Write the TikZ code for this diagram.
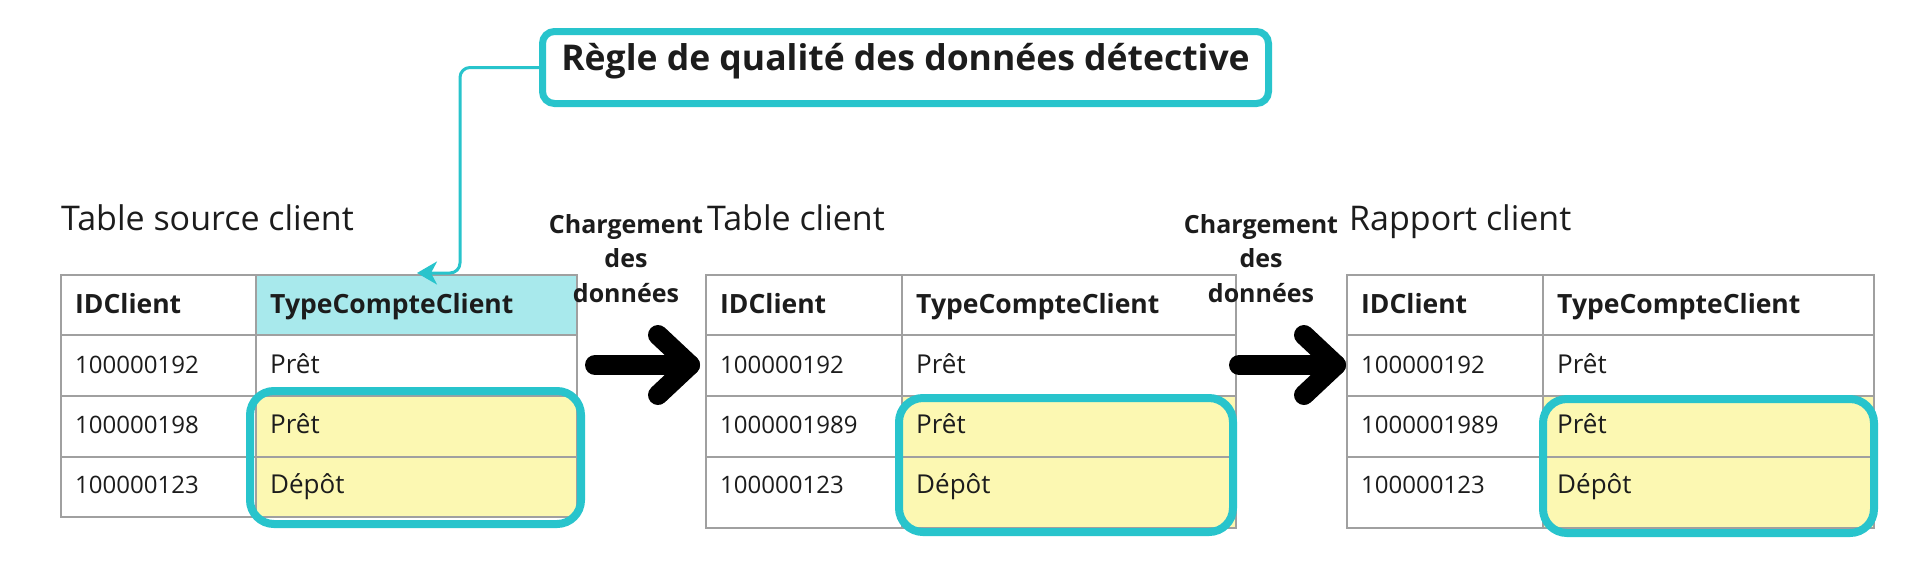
\documentclass[tikz,border=0pt]{standalone}
\usepackage{fontspec}
\setmainfont{Open Sans}
\usetikzlibrary{arrows.meta}
\definecolor{teal1}{RGB}{40,196,204}
\definecolor{hdrcyan}{RGB}{168,233,236}
\definecolor{cellyel}{RGB}{252,248,178}
\definecolor{gridgray}{RGB}{160,160,160}
\definecolor{ink}{RGB}{28,28,28}

\newcommand{\cltable}[6]{%
  \fill[cellyel] (#3,396) rectangle (#4,#5);
  \draw[tgrid] (#2,275) rectangle (#4,#5);
  \draw[tgrid] (#3,275) -- (#3,#5);
  \foreach \yy in {335,396,457} {\draw[tgrid] (#2,\yy) -- (#4,\yy);}
  \node[hdr] (#1hA) at (#2+14,313) {IDClient};
  \node[hdr] (#1hB) at (#3+14,313) {TypeCompteClient};
  \node[idtxt] (#1iA) at (#2+14,373) {100000192};
  \node[idtxt] (#1iB) at (#2+14,433) {#6};
  \node[idtxt] (#1iC) at (#2+14,493) {100000123};
  \node[valtxt] (#1vA) at (#3+14,373) {Prêt};
  \node[valtxt] (#1vB) at (#3+14,433) {Prêt};
  \node[valtxt] (#1vC) at (#3+14,493) {Dépôt};
}

\begin{document}
\begin{tikzpicture}[x=1pt,y=-1pt,
  txt/.style={inner sep=0pt, anchor=base west, text=ink},
  title/.style={txt, font=\fontsize{34}{41}\selectfont},
  hdr/.style={txt, font=\bfseries\fontsize{26.5}{32}\selectfont},
  idtxt/.style={txt, font=\fontsize{24}{29}\selectfont},
  valtxt/.style={txt, font=\fontsize{26}{31}\selectfont},
  tgrid/.style={draw=gridgray, line width=2pt},
  hl/.style={draw=teal1, line width=8pt, rounded corners=24pt},
  bigarrow/.style={draw=black, line width=20pt, line cap=round, line join=round},
  conn/.style={draw=teal1, line width=3pt, rounded corners=10pt, -{Stealth[length=20pt,width=23pt,inset=6pt]}},
  rulebox/.style={draw=teal1, line width=7pt, rounded corners=12pt, fill=white,
    minimum width=726pt, inner xsep=0pt, inner ysep=0pt, text height=38.5pt, text depth=33.5pt,
    text=ink, font=\bfseries\fontsize{35.5}{42}\selectfont},
  loadlbl/.style={inner sep=0pt, anchor=north, align=center, text=ink,
    font=\bfseries\fontsize{25}{34.5}\selectfont}
]
\useasboundingbox (0,0) rectangle (1920,560);
\fill[white] (0,0) rectangle (1920,560);

% rule box and connector
\node[rulebox] (rule) at (905.5,67.5) {Règle de qualité des données détective};
\coordinate (ruletip) at (417,273);

% titles
\node[title] (title1) at (61,230) {Table source client};
\node[title] (title2) at (707,230) {Table client};
\node[title] (title3) at (1349,230) {Rapport client};

% tables
\fill[hdrcyan] (256,275) rectangle (577,335);
\cltable{ta}{61}{256}{577}{517}{100000198}
\cltable{tb}{706}{902}{1236}{528}{1000001989}
\cltable{tc}{1347}{1543}{1874}{528}{1000001989}

% highlight boxes
\draw[hl] (250,391) rectangle (581,524);
\draw[hl] (899,398) rectangle (1233,532);
\draw[hl] (1543,399) rectangle (1874,533);

\draw[conn] (rule.west) -| (460,273) -- (ruletip);

% load labels
\node[loadlbl] (load1) at (626,214) {Chargement\\des\\données};
\node[loadlbl] (load2) at (1261,214) {Chargement\\des\\données};

% big arrows
\coordinate (a1s) at (595,365);
\coordinate (a1t) at (690,365);
\coordinate (a2s) at (1239,365);
\coordinate (a2t) at (1336,365);
\draw[bigarrow] (a1s) -- (a1t);
\draw[bigarrow] (a1t) ++(-32,-30) -- (a1t) -- ++(-32,30);
\draw[bigarrow] (a2s) -- (a2t);
\draw[bigarrow] (a2t) ++(-32,-30) -- (a2t) -- ++(-32,30);
\end{tikzpicture}
\end{document}
